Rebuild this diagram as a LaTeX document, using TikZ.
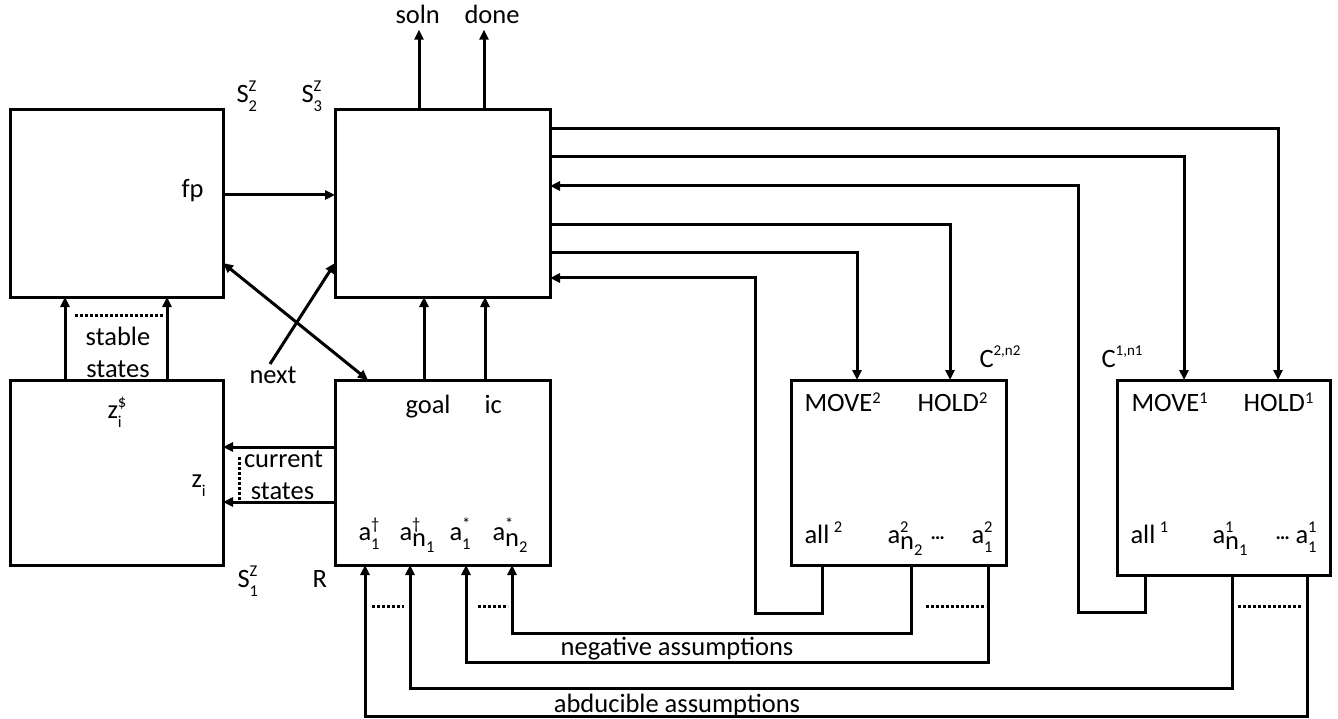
\documentclass[tikz,border=0pt]{standalone}
\usepackage{fontspec}
\setmainfont{Carlito}
\usetikzlibrary{arrows.meta,calc}
\newcommand{\sm}{\fontsize{16.5}{16.5}\selectfont}
\newcommand{\mysup}[1]{\raisebox{11pt}{\sm #1}}
\newcommand{\mysub}[1]{\raisebox{-9pt}{\sm #1}}
\newcommand{\mysupsub}[2]{\rlap{\mysup{#1}}\mysub{#2}}
\newcommand{\nsub}[1]{\raisebox{-6pt}{n\raisebox{-6pt}{\sm #1}}}
\newcommand{\hdots}{{\fontsize{20}{20}\selectfont\bfseries …}}
\begin{document}
\begin{tikzpicture}[x=1pt,y=-1pt,line width=3pt,
  font=\fontsize{26.5}{32}\selectfont,
  box/.style={draw,inner sep=0pt,outer sep=0pt},
  lbl/.style={inner sep=0pt,anchor=base west},
  clbl/.style={inner sep=0pt,anchor=base},
  arr/.style={-{Triangle[length=10pt,width=9pt]}},
  arrs/.style={{Triangle[length=10pt,width=9pt]}-{Triangle[length=10pt,width=9pt]}},
  dots/.style={dash pattern=on 3pt off 2pt}]
\useasboundingbox (0,0) rectangle (1338,719);

% boxes
\node[box,minimum width=213pt,minimum height=187pt] (S2) at (116.5,203.5) {};
\node[box,minimum width=215pt,minimum height=187pt] (S3) at (442.5,203.5) {};
\node[box,minimum width=213pt,minimum height=185pt] (S1) at (116.5,472.5) {};
\node[box,minimum width=215pt,minimum height=185pt] (R)  at (442.5,472.5) {};
\node[box,minimum width=215pt,minimum height=185pt] (C2) at (898.5,472.5) {};
\node[box,minimum width=213pt,minimum height=195pt] (C1) at (1223.5,477.5) {};

% labels
\node[lbl] (soln) at (394,24) {soln};
\node[lbl] (done) at (463,24) {done};
\node[lbl] (s2lbl) at (235,103) {S\mysupsub{Z}{2}};
\node[lbl] (s3lbl) at (300,103) {S\mysupsub{Z}{3}};
\node[lbl] (s1lbl) at (236,587) {S\mysupsub{Z}{1}};
\node[lbl] (rlbl) at (311,587) {R};
\node[lbl] (fp) at (180,198) {fp};
\node[lbl] (next) at (248,383) {next};
\node[clbl] (stable) at (118,345) {stable};
\node[clbl] (states1) at (118,377) {states};
\node[clbl] (current) at (283.5,467) {current};
\node[clbl] (states2) at (282.5,499) {states};
\node[lbl] (zs) at (106,418) {z\mysupsub{\$}{i}};
\node[lbl] (zi) at (190,487) {z\mysub{i}};
\node[lbl] (goal) at (404,413) {goal};
\node[lbl] (ic) at (483,413) {ic};
\node[lbl] (ad1) at (357,540) {a\mysupsub{†}{1}};
\node[lbl] (adn) at (398,540) {a\rlap{\mysup{†}}\nsub{1}};
\node[lbl] (as1) at (448,540) {a\mysupsub{*}{1}};
\node[lbl] (asn) at (491,540) {a\rlap{\mysup{*}}\nsub{2}};
\node[lbl] (c2lbl) at (978,367) {C\raisebox{12pt}{\fontsize{15}{15}\selectfont 2,n2}};
\node[lbl] (c1lbl) at (1100,367) {C\raisebox{12pt}{\fontsize{15}{15}\selectfont 1,n1}};
\node[lbl] (move2) at (803,411) {MOVE\raisebox{8pt}{\sm 2}};
\node[lbl] (hold2) at (916,411) {HOLD\raisebox{8pt}{\sm 2}};
\node[lbl] (move1) at (1130,411) {MOVE\raisebox{8pt}{\sm 1}};
\node[lbl] (hold1) at (1242,411) {HOLD\raisebox{8pt}{\sm 1}};
\node[lbl] (all2) at (803,543) {all\,\mysup{2}};
\node[lbl] (a2n) at (886,543) {a\rlap{\mysup{2}}\nsub{2}};
\node[lbl] (dots2) at (929,539) {\hdots};
\node[lbl] (a21) at (970,543) {a\mysupsub{2}{1}};
\node[lbl] (all1) at (1129,543) {all\,\mysup{1}};
\node[lbl] (a1n) at (1211,543) {a\rlap{\mysup{1}}\nsub{1}};
\node[lbl] (dots1) at (1274,539) {\hdots};
\node[lbl] (a11) at (1294,543) {a\mysupsub{1}{1}};
\node[clbl] (neg) at (677,655) {negative assumptions};
\node[clbl] (abd) at (677,712) {abducible assumptions};

% connectors
\draw[arr,shorten >=4pt] (S3.north -| 419,0) -- (soln.south -| 419,0);
\draw[arr,shorten >=4pt] (S3.north -| 484,0) -- (done.south -| 484,0);
\draw[arr] (S2.east |- 0,195) -- (S3.west |- 0,195);
\draw[arrs] (S2.east |- 0,263) -- (R.north -| 368,0);
\coordinate (nexttail) at (270,364);
\draw[arr] (nexttail) -- (S3.west |- 0,263);
\draw[arr] (S1.north -| 65,0) -- (S2.south -| 65,0);
\draw[arr] (S1.north -| 167,0) -- (S2.south -| 167,0);
\draw[dots] (75,315) -- (163,315);
\draw[arr] (R.west |- 0,447) -- (S1.east |- 0,447);
\draw[arr] (R.west |- 0,502) -- (S1.east |- 0,502);
\draw[dots] (239,457) -- (239,500);
\draw[arr] (R.north -| 424,0) -- (S3.south -| 424,0);
\draw[arr] (R.north -| 485,0) -- (S3.south -| 485,0);

\draw[arr] (S3.east |- 0,129) -| (C1.north -| 1278,0);
\draw[arr] (S3.east |- 0,157) -| (C1.north -| 1184,0);
\draw[arr] (C1.south -| 1145,0) |- (1078,612) |- (S3.east |- 0,186);
\draw[arr] (S3.east |- 0,225) -| (C2.north -| 950,0);
\draw[arr] (S3.east |- 0,253) -| (C2.north -| 857,0);
\draw[arr] (C2.south -| 822,0) |- (755,613) |- (S3.east |- 0,278);

\draw[arr] (C2.south -| 911,0) -- (911,633) -| (R.south -| 512,0);
\draw[arr] (C2.south -| 988,0) -- (988,662) -| (R.south -| 466,0);
\draw[arr] (C1.south -| 1232,0) -- (1232,688) -| (R.south -| 410,0);
\draw[arr] (C1.south -| 1307,0) -- (1307,716) -| (R.south -| 365,0);
\draw[dots] (372,606) -- (404,606);
\draw[dots] (478,606) -- (508,606);
\draw[dots] (926,606) -- (986,606);
\draw[dots] (1238,606) -- (1302,606);
\end{tikzpicture}
\end{document}
